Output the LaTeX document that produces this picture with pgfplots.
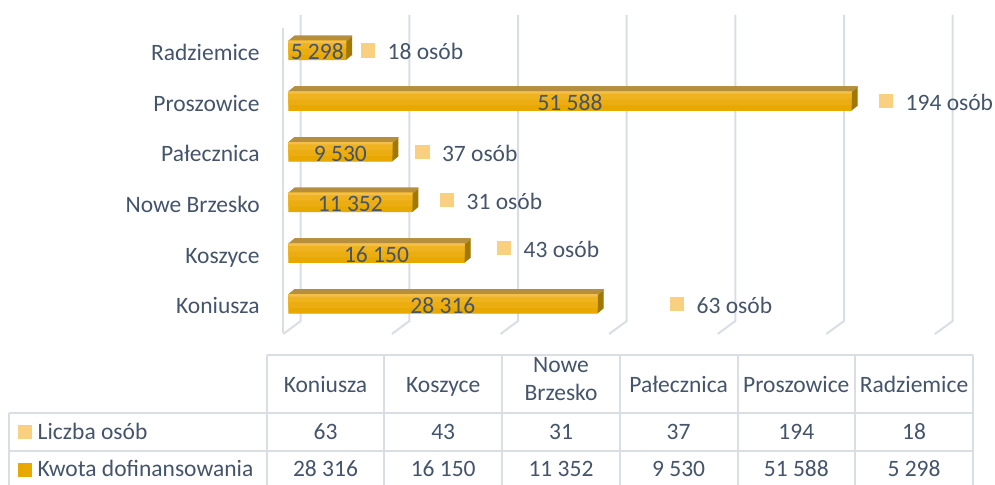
\documentclass[border=0pt]{standalone}
\usepackage{fontspec}
\setmainfont{Carlito}
\usepackage{pgfplots}
\pgfplotsset{compat=1.18}
\usepackage{pgfplotstable}
\definecolor{textc}{HTML}{44546A}
\definecolor{gridc}{HTML}{D9DDE4}
\definecolor{frontl}{HTML}{F3C04E}
\definecolor{fronttop}{HTML}{EFB320}
\definecolor{frontmid}{HTML}{EBAD12}
\definecolor{frontbot}{HTML}{E7A800}
\definecolor{topc}{HTML}{B68F3C}
\definecolor{sidec}{HTML}{A07805}
\definecolor{sqc}{HTML}{F9CF80}

\pgfplotstableread{
y v
0 28316
1 16150
2 11352
3 9530
4 51588
5 5298
}\kwota
\pgfplotstableread{
x y n
35590 0.00 63
19750 1.10 43
14531 2.05 31
12269 3.00 37
54726 4.00 194
7297 5.00 18
}\liczba

\begin{document}
\fontsize{11.75pt}{14pt}\selectfont
\begin{tikzpicture}[text=textc]
\useasboundingbox (0,0) rectangle (497.5pt,242.5pt);
\begin{scope}[x=0.5pt,y=-0.5pt,shift={(0pt,242.5pt)}]
  % 3D walls / gridlines
  \foreach \k in {0,...,6}{
    \draw[gridc, line width=1pt] ({300.7+108.67*\k},15) -- ({300.7+108.67*\k},321) -- ({283.3+108.6*\k},334);
  }
  \draw[gridc, line width=1pt] (283.3,28) -- (283.3,333.3);
  % data table grid
  \draw[gridc, line width=1pt] (266.7,355) -- (972.9,355);
  \draw[gridc, line width=1pt] (9.3,412.7) -- (972.9,412.7);
  \draw[gridc, line width=1pt] (9.3,451) -- (972.9,451);
  \draw[gridc, line width=1pt] (9.3,412.7) -- (9.3,495);
  \foreach \xx in {266.7,384.4,502.1,619.8,737.5,855.2,972.9}{
    \draw[gridc, line width=1pt] (\xx,355) -- (\xx,495);
  }
  % header
  \foreach \xx/\t in {325.5/Koniusza,443.2/Koszyce,678.6/Pałecznica,796.3/Proszowice,914/Radziemice}{
    \node[anchor=base, inner sep=0pt] at (\xx,392.5) {\t};
  }
  \node[anchor=base, inner sep=0pt] at (561,373) {Nowe};
  \node[anchor=base, inner sep=0pt] at (561,401) {Brzesko};
  % row 1
  \foreach \xx/\t in {325.5/63,443.2/43,561/31,678.6/37,796.3/194,914/18}{
    \node[anchor=base, inner sep=0pt] at (\xx,439.5) {\t};
  }
  % row 2
  \foreach \xx/\t in {325.5/28 316,443.2/16 150,561/11 352,678.6/9 530,796.3/51 588,914/5 298}{
    \node[anchor=base, inner sep=0pt] at (\xx,477) {\t};
  }
  \fill[sqc] (18.3,425.3) rectangle (31.7,438.7);
  \fill[frontbot] (18.3,463.3) rectangle (31.7,476.7);
  \node[anchor=base west, inner sep=0pt] at (37.3,439.5) {Liczba osób};
  \node[anchor=base west, inner sep=0pt] at (37.3,477) {Kwota dofinansowania};
\end{scope}

\begin{axis}[
  at={(144.15pt,77.875pt)}, anchor=south west,
  scale only axis, width=327.65pt, height=152.1pt,
  xmin=0, xmax=60000, ymin=-0.5, ymax=5.5,
  axis line style={draw=none}, tick style={draw=none},
  xtick=\empty,
  ytick={0,...,5},
  yticklabels={Koniusza,Koszyce,Nowe Brzesko,Pałecznica,Proszowice,Radziemice},
  yticklabel style={anchor=base east, inner sep=0pt, xshift=-14.15pt, yshift=-5pt, text=textc},
  clip=false,
  /pgf/number format/fixed,
  /pgf/number format/precision=0,
  /pgf/number format/1000 sep={\ },
  /pgf/number format/assume math mode=true,
]
% extrusion (side face colour)
\pgfplotsinvokeforeach{12,11,10,9,8,7,6,5,4,3,2,1}{
  \addplot[xbar, bar shift=0pt, bar width=9.75pt, fill=sidec, draw=none,
    xshift=#1*0.25pt, yshift=#1*0.2083pt] table[x=v,y=y]{\kwota};
}
% top face: sweep of the top edge
\pgfplotsinvokeforeach{12,11,10,9,8,7,6,5,4,3,2,1}{
  \addplot[xbar, bar shift=0pt, bar width=0.7pt, fill=topc, draw=none,
    xshift=#1*0.25pt, yshift=4.525pt+#1*0.2083pt] table[x=v,y=y]{\kwota};
}
% front face (stepped gradient)
\addplot[xbar, bar shift=0pt, bar width=9.75pt, draw=none, fill=frontbot] table[x=v,y=y]{\kwota};
\addplot[xbar, bar shift=0pt, bar width=7pt, draw=none, fill=frontmid, yshift=1.375pt] table[x=v,y=y]{\kwota};
\addplot[xbar, bar shift=0pt, bar width=4pt, draw=none, fill=fronttop, yshift=2.875pt] table[x=v,y=y]{\kwota};
\addplot[xbar, bar shift=0pt, bar width=1.2pt, draw=none, fill=frontl, yshift=4.275pt] table[x=v,y=y]{\kwota};
% value labels
\addplot[draw=none, mark=none, point meta=explicit,
  nodes near coords,
  every node near coord/.style={anchor=base, inner sep=0pt, yshift=-4.65pt, text=textc}]
  table[x expr=\thisrow{v}/2, y=y, meta=v]{\kwota};
% Liczba osob labels
\addplot[only marks, color=sqc, mark=square*, mark size=3.35pt, mark options={draw=sqc, fill=sqc, line width=0pt},
  point meta=explicit symbolic,
  nodes near coords={\pgfplotspointmeta\ osób},
  every node near coord/.style={anchor=base west, inner sep=0pt, xshift=9.85pt, yshift=-4.65pt, text=textc}]
  table[x=x,y=y,meta=n]{\liczba};
\end{axis}
\end{tikzpicture}
\end{document}
